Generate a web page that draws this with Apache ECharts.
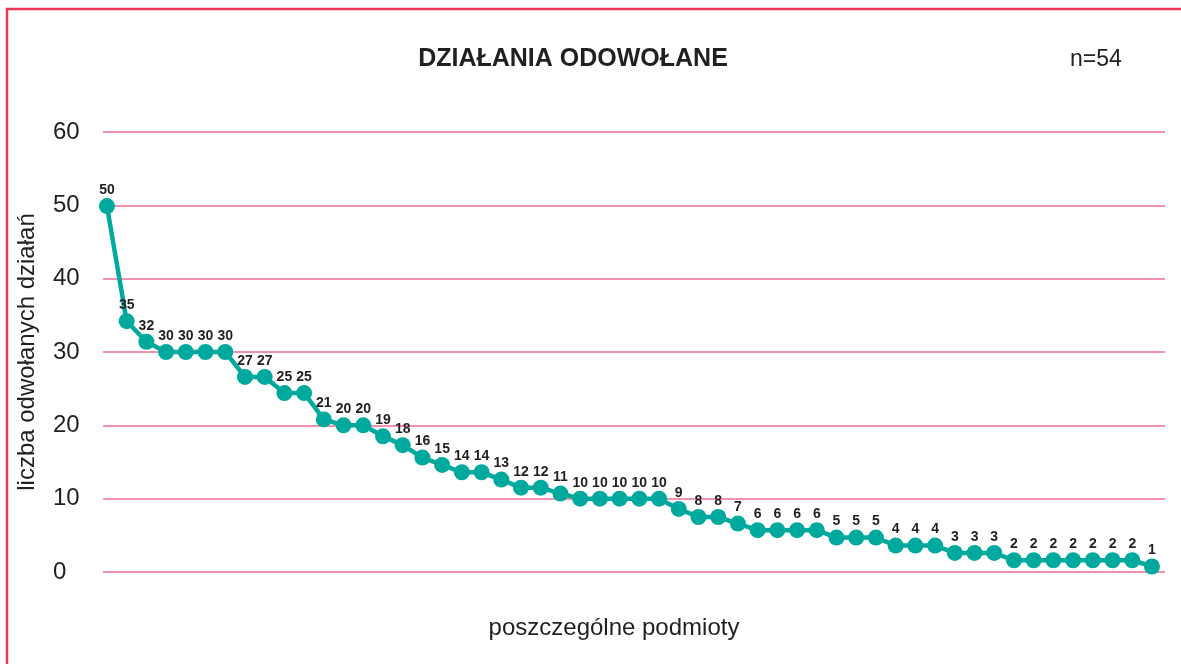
<!DOCTYPE html>
<html>
<head>
<meta charset="utf-8">
<script src="https://cdn.jsdelivr.net/npm/echarts@6/dist/echarts.min.js"></script>
<style>
html,body{margin:0;padding:0;background:#fff;}
#chart{width:1181px;height:664px;}
</style>
</head>
<body>
<div id="chart"></div>
<script>
// Printed value labels (number of cancelled actions per entity)
const labels = [50, 35, 32, 30, 30, 30, 30, 27, 27, 25, 25, 21, 20, 20, 19, 18, 16, 15, 14, 14, 13, 12, 12, 11, 10, 10, 10, 10, 10, 9, 8, 8, 7, 6, 6, 6, 6, 5, 5, 5, 4, 4, 4, 3, 3, 3, 2, 2, 2, 2, 2, 2, 2, 1];
// Point heights as drawn in the reference picture
const plotted = [49.9, 34.2, 31.4, 30, 30, 30, 30, 26.6, 26.6, 24.4, 24.4, 20.8, 20, 20, 18.5, 17.3, 15.6, 14.6, 13.6, 13.6, 12.6, 11.5, 11.5, 10.7, 10, 10, 10, 10, 10, 8.6, 7.5, 7.5, 6.6, 5.7, 5.7, 5.7, 5.7, 4.7, 4.7, 4.7, 3.6, 3.6, 3.6, 2.6, 2.6, 2.6, 1.6, 1.6, 1.6, 1.6, 1.6, 1.6, 1.6, 0.75];
const yTicks = [0, 10, 20, 30, 40, 50, 60];
const titleText = 'DZIAŁANIA ODOWOŁANE';
const nText = 'n=54';
const yName = 'liczba odwołanych działań';
const xName = 'poszczególne podmioty';

const FONT = '"Liberation Sans", Arial, sans-serif';
const TXT = '#231f20';

const seriesData = plotted.map((v, i) => [i + 1, v]);

const chart = echarts.init(document.getElementById('chart'), null, {renderer: 'canvas'});
chart.setOption({
  backgroundColor: '#ffffff',
  animation: false,
  graphic: [{
    type: 'rect',
    shape: {x: 7, y: 9, width: 1300, height: 800},
    style: {fill: 'none', stroke: '#e8375b', lineWidth: 2.5},
    silent: true
  }],
  title: [{
    text: titleText,
    left: 573, top: 47, textAlign: 'center', padding: 0,
    textStyle: {fontFamily: FONT, fontSize: 25, fontWeight: 'bold', color: TXT}
  }, {
    text: nText,
    left: 1070, top: 48, padding: 0,
    textStyle: {fontFamily: FONT, fontSize: 23, fontWeight: 'normal', color: TXT}
  }],
  grid: {left: 103, right: 16, top: 132, bottom: 92, containLabel: false},
  xAxis: {
    type: 'value', min: 0.8, max: 54.66,
    axisLine: {show: false}, axisTick: {show: false}, axisLabel: {show: false}, splitLine: {show: false},
    name: xName, nameLocation: 'middle', nameGap: 44,
    nameTextStyle: {fontFamily: FONT, fontSize: 24, color: TXT, padding: [0, 40, 0, 0]}
  },
  yAxis: {
    type: 'value', min: yTicks[0], max: yTicks[yTicks.length - 1], interval: 10,
    axisLine: {show: false}, axisTick: {show: false},
    axisLabel: {fontFamily: FONT, fontSize: 24, color: TXT, align: 'left', margin: 50, padding: [5, 0, 0, 0]},
    splitLine: {show: true, lineStyle: {color: '#f291ab', width: 2}},
    name: yName, nameLocation: 'middle', nameGap: 64, nameRotate: 90,
    nameTextStyle: {fontFamily: FONT, fontSize: 24, color: TXT}
  },
  series: [{
    type: 'line',
    data: seriesData,
    symbol: 'circle', symbolSize: 16,
    lineStyle: {color: '#00a99d', width: 4.5},
    itemStyle: {color: '#00a99d'},
    label: {
      show: true, position: 'top', distance: 1,
      fontFamily: FONT, fontSize: 14, fontWeight: 'bold', color: TXT,
      formatter: p => String(labels[p.dataIndex])
    },
    z: 3
  }]
});
</script>
</body>
</html>
